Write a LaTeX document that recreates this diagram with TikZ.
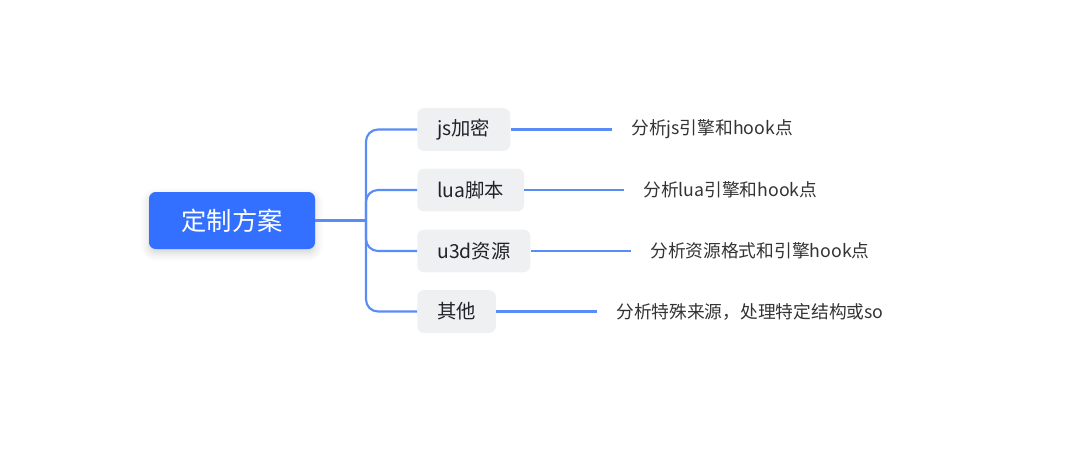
\documentclass[tikz,border=0pt]{standalone}
\usepackage{fontspec}
\usepackage{xcolor}
\usepackage{tikz}
\usetikzlibrary{arrows.meta,calc,positioning,shadows.blur}
\newfontfamily\cjk{Noto Sans CJK SC}
\definecolor{rootblue}{HTML}{3370FF}
\definecolor{linkblue}{HTML}{5A8CF8}
\definecolor{softgray}{HTML}{EFF0F2}
\definecolor{darkgray}{HTML}{1F2329}
\definecolor{leafgray}{HTML}{333333}
\tikzset{
  rootnode/.style={fill=rootblue, text=white, rounded corners=5pt, font=\cjk\fontsize{19}{21}\selectfont,
    minimum width=124.5pt, minimum height=42.75pt, inner sep=0pt,
    blur shadow={shadow xshift=0pt, shadow yshift=-3pt, shadow blur radius=6pt, shadow opacity=18}},
  branchnode/.style={fill=softgray, text=darkgray, rounded corners=5pt, font=\cjk\fontsize{14.5}{16}\selectfont,
    minimum height=32pt, inner xsep=15pt, inner ysep=0pt, anchor=west},
  leafnode/.style={text=leafgray, font=\cjk\fontsize{13.3}{15}\selectfont, inner sep=0pt, anchor=west},
  link/.style={linkblue, line width=1.6pt},
  elbow/.style={link, rounded corners=9pt}
}
\begin{document}
\begin{tikzpicture}[x=0.75pt, y=-0.75pt]
  \useasboundingbox (0,0) rectangle (1065,450);
  % main topic
  \node[rootnode] (root) at (232,220.5) {定制方案};
  \coordinate (jn) at (366,220.5);
  % sub topics
  \node[branchnode] (js) at (417,129.5) {js加密};
  \node[branchnode] (lua) at (417,190) {lua脚本};
  \node[branchnode] (u3d) at (417,251) {u3d资源};
  \node[branchnode] (other) at (417,311.5) {其他};
  % details
  \node[leafnode] (jsinfo) at (631,129.5) {分析js引擎和hook点};
  \node[leafnode] (luainfo) at (643,190) {分析lua引擎和hook点};
  \node[leafnode] (u3dinfo) at (650,251) {分析资源格式和引擎hook点};
  \node[leafnode] (otherinfo) at (616,311.5) {分析特殊来源，处理特定结构或so};
  % connectors
  \draw[link] (root.east) -- (jn);
  \foreach \b in {js,lua,u3d,other}{
    \draw[elbow] (jn) |- (\b.west);
    \draw[link, shorten >=14pt] (\b.east) -- (\b info.west);
  }
\end{tikzpicture}
\end{document}
